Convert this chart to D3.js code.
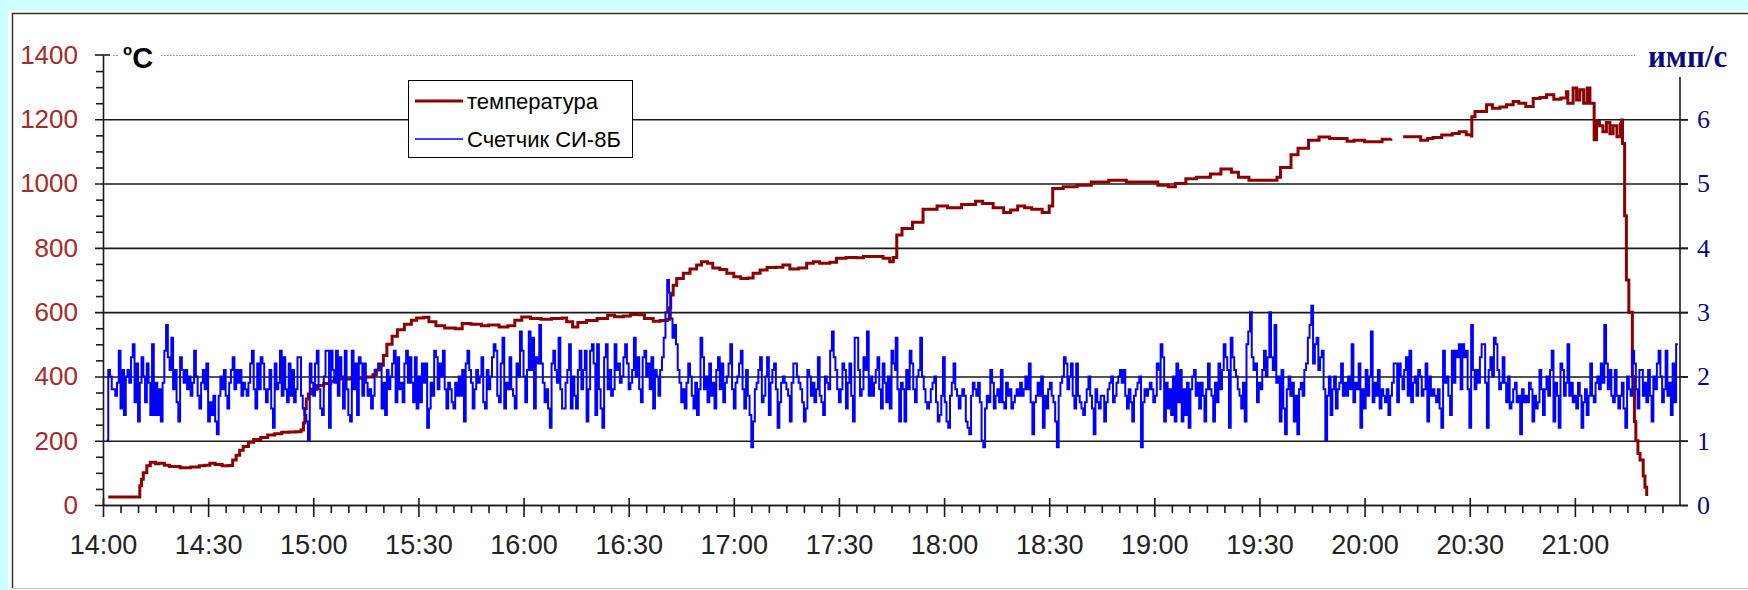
<!DOCTYPE html>
<html>
<head>
<meta charset="utf-8">
<script src="https://cdn.jsdelivr.net/npm/d3@7"></script>
<style>
  body { margin: 0; background: #ccffff; }
  svg { display: block; }
</style>
</head>
<body>
<svg id="chart" width="1748" height="590"></svg>
<script>
// ---- data -------------------------------------------------------------
// time is given in minutes after 14:00

// temperature, °C (NaN marks the interruption of the record)
const tempTime = [
  1.5, 10, 10.5, 11, 11.5, 12.5, 13.5, 15, 16, 17.5, 19, 22, 25, 27.5, 29, 30.5, 32, 34, 36, 37,
  38, 39, 40, 41.5, 43, 45, 47, 49, 51, 53, 55, 56.5, 57.2, 57.6, 58, 58.6, 59.5, 61, 63, 65,
  66, 68, 71, 73, 75, 77, 78, 79, 80, 81, 82.5, 84, 86, 88, 89.5, 91.5, 93, 95, 97.5, 100.5,
  102.5, 105, 108, 110, 113, 115.5, 117.5, 119.5, 122, 125, 128, 131, 132.3, 134, 135.5, 138, 141, 144, 146, 148.5,
  150.5, 153, 154.5, 157, 159, 161, 161.6, 162, 162.7, 163.7, 165.6, 167.5, 169.4, 170.8, 172.5, 174, 176, 178, 180, 182,
  184, 185.5, 187.5, 189.5, 192, 194, 196, 198.5, 200.8, 202.7, 204.5, 207.4, 209.3, 212, 215, 217, 220, 222.6, 224.5, 225.5,
  226.5, 228, 231, 234, 238, 241, 245, 249, 251, 254, 257, 259, 261, 263, 265, 268, 270, 271, 274, 278,
  282, 287, 292, 297, 301, 304, 306, 309, 312, 316, 319, 322, 324, 327, 332, 335, 336, 339, 341, 344,
  347, 350, 352, 355, 357, 360, 362, 365, 367.5, 369, 371, 374, 376, 378, 379.5, 382, 385, 387, 389, 390.5,
  390.6, 391.5, 394.8, 396.5, 398.6, 400.5, 402.4, 404, 406, 408.1, 410, 411.9, 414, 416, 417.6, 418, 419.5, 420.5, 421.4, 422.5,
  423.5, 424.3, 425.5, 426.2, 427, 428, 429, 430, 430.9, 432, 433, 433.3, 433.6, 434.2, 434.7, 435.4, 436.4, 437, 437.4, 438,
  438.6, 439.5, 440, 440.5
];
const tempValue = [
  25, 25, 60, 80, 100, 122, 133, 128, 130, 124, 120, 116, 118, 122, 124, 130, 126, 122, 123, 140,
  155, 170, 182, 195, 204, 210, 218, 222, 226, 227, 228, 233, 255, 300, 330, 345, 360, 372, 378, 385,
  392, 392, 396, 394, 398, 405, 420, 435, 465, 500, 525, 545, 562, 575, 582, 584, 570, 558, 551, 548,
  565, 562, 558, 560, 554, 558, 575, 585, 580, 578, 580, 582, 570, 554, 568, 574, 580, 590, 586, 588,
  593, 592, 580, 572, 574, 578, 613, 653, 684, 705, 721, 734, 747, 757, 752, 737, 733, 721, 710, 705,
  706, 721, 731, 739, 740, 747, 734, 737, 752, 757, 752, 755, 768, 770, 769, 773, 773, 768, 757, 770,
  840, 860, 880, 920, 930, 925, 935, 945, 938, 925, 910, 918, 930, 925, 920, 910, 930, 985, 990, 995,
  1005, 1010, 1005, 1005, 995, 990, 1000, 1015, 1020, 1030, 1045, 1035, 1020, 1010, 1010, 1020, 1050, 1090, 1110, 1135,
  1145, 1140, 1140, 1132, 1135, 1130, 1130, 1138, 1140, NaN, 1146, 1146, 1135, 1140, 1143, 1151, 1156, 1161, 1152, 1148,
  1208, 1224, 1245, 1234, 1238, 1245, 1255, 1250, 1240, 1265, 1268, 1276, 1262, 1266, 1286, 1250, 1297, 1260, 1292, 1250,
  1297, 1250, 1136, 1193, 1180, 1161, 1190, 1155, 1180, 1146, 1185, 1198, 1125, 900, 700, 600, 400, 260, 200, 160,
  140, 90, 55, 28
];

// counter СИ-8Б, pulses per second ×10, one reading every 30 s, in six blocks
const counterStep = 0.5;
const counterStart = [1, 75, 150.5, 226.2, 301.8, 377.4];
const counterBlock1 = [
  10,21,20,18,18,17,19,24,15,21, 14,20,21,19,23,25,16,22,13,19,
  23,20,16,22,19,14,25,14,19,14, 18,13,19,24,28,23,21,26,18,21,
  16,13,23,21,19,21,18,20,17,19, 24,20,17,15,19,21,18,22,13,16,
  14,17,13,11,17,20,18,21,17,15, 19,21,23,18,21,19,21,17,19,18,
  17,19,22,24,18,15,22,18,23,22, 18,16,18,21,15,12,22,18,19,24,
  17,23,18,16,22,17,21,16,18,23, 23,17,15,14,13,10,22,19,17,22,
  24,18,15,14,20,24,24,12,24,21, 19,24,17,23,20,15,24,18,14,13,
  24,18,22,14,23,22,17,22
];
const counterBlock2 = [
  19,17,18,15,17,21,21,22,22,15, 19,14,21,18,20,22,24,16,23,18,
  19,16,22,24,19,23,19,16,23,15, 20,16,22,19,22,12,15,19,17,24,
  23,18,22,20,24,18,15,19,18,16, 15,19,17,20,17,21,13,22,24,21,
  19,15,18,21,19,20,23,16,15,21, 18,20,23,25,24,17,16,22,26,15,
  19,18,23,18,17,15,22,20,27,24, 20,16,21,27,21,26,15,23,22,28,
  22,19,16,18,15,12,22,24,21,19, 26,18,15,15,19,21,25,15,20,17,
  15,21,24,18,21,24,13,18,24,25, 22,14,25,18,15,12,23,25,18,21,
  17,18,25,21,22,19,20,23,25,22, 18,19
];
const counterBlock3 = [
  24,21,26,20,23,18,16,23,24,20, 22,18,23,15,21,20,17,21,23,26,
  30,35,33,29,26,28,25,21,19,16, 18,15,19,22,20,17,15,19,14,18,
  26,23,18,20,16,22,17,19,15,21, 23,18,22,16,19,20,22,25,18,15,
  19,20,22,24,18,15,21,17,14,9,  13,18,19,21,23,16,17,20,23,14,
  19,21,22,18,12,16,19,20,19,18, 17,13,19,22,22,20,19,18,16,13,
  15,21,20,17,19,16,18,23,17,16, 14,20,19,18,24,27,23,21,18,16,
  18,22,21,15,19,22,17,13,26,26, 21,17,18,23,21,27,17,20,17,19,
  21,23,18,15,22,19,16,20,15,24, 22,21
];
const counterBlock4 = [
  26,18,13,19,18,13,21,18,24,22, 18,16,20,21,26,20,18,16,15,16,
  18,19,20,16,13,14,17,23,16,13, 12,17,19,22,18,17,15,17,18,17,
  13,12,11,17,19,18,17,19,16,10, 9,15,17,16,21,19,15,17,18,16,
  21,16,15,19,17,18,15,16,17,18, 17,19,17,18,20,18,22,16,11,16,
  17,19,17,20,12,17,15,18,19,17, 16,13,9,17,19,20,23,22,18,20,
  22,17,15,22,17,16,15,14,16,18, 20,17,15,11,18,16,15,17,17,13,
  16,18,19,20,16,17,19,20,21,19, 21,17,15,18,16,13,17,18,19,20,
  9,16,18,17,18,19,18,16,17,22,  21,18
];
const counterBlock5 = [
  25,23,13,19,15,18,14,20,13,22, 16,21,13,18,14,19,12,18,20,21,
  17,19,15,19,17,13,18,22,18,17, 13,19,16,22,18,21,25,23,21,12,
  26,23,21,20,18,17,15,19,13,25, 27,30,23,21,22,16,19,18,21,24,
  20,23,30,23,21,28,19,20,13,21, 15,11,18,20,17,19,13,17,11,18,
  19,17,21,22,26,28,31,22,25,26, 21,23,24,18,10,17,20,14,18,20,
  15,18,19,22,17,19,17,20,18,25, 16,19,18,22,12,18,15,21,17,20,
  27,16,19,17,21,15,18,17,16,18, 14,17,19,22,22,16,22,20,18,21,
  23,17,24,16,19,20,17,21,20,17, 18,18
];
const counterBlock6 = [
  22,13,20,17,18,17,16,18,15,12, 24,19,20,17,14,24,19,24,23,25,
  18,25,23,24,18,12,28,21,18,21, 19,23,25,25,19,12,21,23,20,26,
  25,21,18,19,23,19,16,20,15,16, 18,19,16,17,11,18,16,17,16,19,
  18,13,17,15,16,21,18,14,18,20, 17,21,24,13,19,17,12,22,21,17,
  19,25,17,19,16,17,15,19,17,12, 16,18,14,17,22,17,16,19,20,18,
  22,19,28,22,18,21,17,16,21,17, 15,17,19,15,12,20,18,17,24,22,
  18,15,21,21,17,19,16,21,17,13, 20,18,22,24,20,16,18,24,17,19,
  14,22,16,25,25
];

// axis ticks
const timeTickMinutes = [0, 30, 60, 90, 120, 150, 180, 210, 240, 270, 300, 330, 360, 390, 420];
const timeTickLabels = ["14:00", "14:30", "15:00", "15:30", "16:00", "16:30", "17:00", "17:30",
                        "18:00", "18:30", "19:00", "19:30", "20:00", "20:30", "21:00"];
const tempTicks = [0, 200, 400, 600, 800, 1000, 1200, 1400];
const countTicks = [0, 1, 2, 3, 4, 5, 6];
const seriesNames = ["температура", "Счетчик СИ-8Б"];

// ---- chart ------------------------------------------------------------
const svg = d3.select("#chart");
const sans = "'Liberation Sans', Arial, sans-serif";
const serif = "'Liberation Serif', 'Times New Roman', serif";
const tempColor = "#8b0000";
const countColor = "#0000ff";
const intFmt = d3.format("d");

// panel
svg.append("rect").attr("x", 8).attr("y", 10).attr("width", 1740).attr("height", 580).attr("fill", "#fff");
svg.append("line").attr("x1", 12.5).attr("x2", 12.5).attr("y1", 13).attr("y2", 588).attr("stroke", "#333").attr("stroke-width", 1.5);
svg.append("line").attr("x1", 12).attr("x2", 1748).attr("y1", 13.5).attr("y2", 13.5).attr("stroke", "#333").attr("stroke-width", 1.5);
svg.append("line").attr("x1", 12).attr("x2", 1748).attr("y1", 588.5).attr("y2", 588.5).attr("stroke", "#c8c8c8").attr("stroke-width", 1);

const x = d3.scaleLinear().domain([0, 450]).range([103, 1680]);
const yL = d3.scaleLinear().domain([0, 1400]).range([505, 55]);
const yR = d3.scaleLinear().domain([0, 7]).range([505, 55]);

const axisColor = "#1a1a1a";

// horizontal grid + left labels
const gridG = svg.append("g").attr("transform", "translate(95,0)")
  .call(d3.axisLeft(yL).tickValues(tempTicks).tickSize(-(1688 - 95)).tickPadding(17).tickFormat(intFmt));
gridG.select(".domain").remove();
gridG.selectAll(".tick line").attr("stroke", axisColor).attr("stroke-width", 1.6);
gridG.selectAll(".tick text").attr("fill", "#a52a2a").attr("font-family", sans).attr("font-size", 26);
// top line is a light dotted one
const topTick = gridG.selectAll(".tick").filter(d => d === 1400);
topTick.select("line").attr("x1", 18).attr("x2", 1635 - 95)
  .attr("stroke", "#8a8a8a").attr("stroke-width", 1).attr("stroke-dasharray", "1.5,1.5");
svg.append("line").attr("x1", 95).attr("x2", 110).attr("y1", yL(1400)).attr("y2", yL(1400))
  .attr("stroke", axisColor).attr("stroke-width", 1.6);

// left axis with minor ticks
const minorTemps = d3.range(50, 1400, 50).filter(v => v % 200 !== 0);
const leftG = svg.append("g").attr("transform", "translate(103,0)")
  .call(d3.axisLeft(yL).tickValues(minorTemps).tickSize(7).tickSizeOuter(0).tickFormat(""));
leftG.selectAll("path, line").attr("stroke", axisColor).attr("stroke-width", 1.6);

// x axis: minor and major ticks
const minorMinutes = d3.range(5, 450, 5).filter(m => m % 30 !== 0);
const xMinor = svg.append("g").attr("transform", "translate(0,505)")
  .call(d3.axisBottom(x).tickValues(minorMinutes).tickSize(8).tickSizeOuter(0).tickFormat(""));
xMinor.selectAll("path, line").attr("stroke", axisColor).attr("stroke-width", 1.6);

const xMajor = svg.append("g").attr("transform", "translate(0,498)")
  .call(d3.axisBottom(x).tickValues(timeTickMinutes).tickSize(19).tickPadding(18)
    .tickFormat(m => timeTickLabels[timeTickMinutes.indexOf(m)]));
xMajor.select(".domain").remove();
xMajor.selectAll(".tick line").attr("stroke", axisColor).attr("stroke-width", 1.6);
xMajor.selectAll(".tick text").attr("fill", "#222").attr("font-family", sans).attr("font-size", 27);

// right axis
const rightG = svg.append("g").attr("transform", "translate(1680,0)")
  .call(d3.axisRight(yR).tickValues(countTicks).tickSize(8).tickPadding(9).tickFormat(intFmt));
rightG.select(".domain").remove();
rightG.selectAll(".tick line").attr("stroke", axisColor).attr("stroke-width", 1.6);
rightG.selectAll(".tick text").attr("fill", "#0a0a80").attr("font-family", serif).attr("font-size", 26);
svg.append("line").attr("x1", 1680).attr("x2", 1680).attr("y1", yR(0)).attr("y2", yR.range()[1] + 22)
  .attr("stroke", axisColor).attr("stroke-width", 1.6);

// unit labels on the dotted top line
svg.append("rect").attr("x", 118).attr("y", 40).attr("width", 43).attr("height", 32).attr("fill", "#fff");
const degLabel = svg.append("text").attr("x", 123).attr("y", 68).attr("font-family", sans)
  .attr("font-weight", "bold").attr("fill", "#000");
degLabel.append("tspan").attr("font-size", 15).attr("dy", -13).text("o");
degLabel.append("tspan").attr("font-size", 29).attr("dy", 13).text("C");
svg.append("text").attr("x", 1648).attr("y", 67).attr("font-family", serif).attr("font-size", 31)
  .attr("font-weight", "bold").attr("fill", "#0a0a80").text("имп/с");

// temperature line
const tempData = tempTime.map((t, i) => ({ t, v: tempValue[i] }));
const tempLine = d3.line()
  .defined(d => !isNaN(d.v))
  .x(d => x(d.t)).y(d => yL(d.v))
  .curve(d3.curveStepAfter);
svg.append("path").datum(tempData).attr("d", tempLine)
  .attr("fill", "none").attr("stroke", tempColor).attr("stroke-width", 3).attr("stroke-linejoin", "miter");

// counter line
const counterBlocks = [counterBlock1, counterBlock2, counterBlock3, counterBlock4, counterBlock5, counterBlock6];
const counterData = [];
counterBlocks.forEach((block, b) => {
  block.forEach((v, i) => {
    const t = counterStart[b] + i * counterStep;
    if (counterData.length === 0 || t > counterData[counterData.length - 1].t) {
      counterData.push({ t, v: v / 10 });
    }
  });
});
const countLine = d3.line().x(d => x(d.t)).y(d => yR(d.v)).curve(d3.curveStepAfter);
svg.append("path").datum(counterData).attr("d", countLine)
  .attr("fill", "none").attr("stroke", countColor).attr("stroke-width", 2);

// legend
const lg = svg.append("g");
lg.append("rect").attr("x", 408.5).attr("y", 80.5).attr("width", 224).attr("height", 77)
  .attr("fill", "#fff").attr("stroke", "#000").attr("stroke-width", 1);
const legendColors = [tempColor, countColor];
const legendWidths = [3, 1.5];
seriesNames.forEach((name, i) => {
  const cy = 101 + i * 38;
  lg.append("line").attr("x1", 415).attr("x2", 463).attr("y1", cy).attr("y2", cy)
    .attr("stroke", legendColors[i]).attr("stroke-width", legendWidths[i]);
  lg.append("text").attr("x", 467).attr("y", cy).attr("dy", "0.35em")
    .attr("font-family", sans).attr("font-size", 22).attr("fill", "#000").text(name);
});
</script>
</body>
</html>
